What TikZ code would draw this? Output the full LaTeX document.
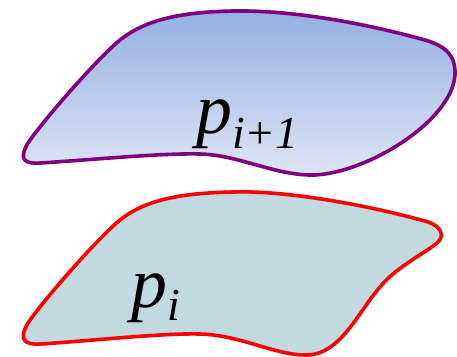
\documentclass[tikz,border=0pt]{standalone}
\usepackage{fontspec}
\setmainfont{Liberation Serif}
\definecolor{blobpurple}{RGB}{128,0,128}
\definecolor{blobred}{RGB}{255,0,0}
\definecolor{bluetop}{RGB}{148,176,226}
\definecolor{bluebot}{RGB}{222,229,245}
\definecolor{tealfill}{RGB}{192,218,224}
\tikzset{
  blob/.style={line width=3.6bp, line join=round},
  lbl/.style={inner sep=0pt, anchor=base west, font=\itshape},
}
\newcommand{\bigsz}{\fontsize{72}{72}\selectfont}
\newcommand{\subsz}{\fontsize{46}{46}\selectfont}
\begin{document}
\begin{tikzpicture}[x=1bp,y=-1bp]
\useasboundingbox (0,0) rectangle (457,356);
% upper region p_{i+1}
\path[blob, draw=blobpurple, top color=bluetop, bottom color=bluebot]
  (40,163) .. controls (90,160) and (160,153) .. (200,154)
  .. controls (240,155) and (275,176) .. (315,175)
  .. controls (370,172) and (452,120) .. (455,75)
  .. controls (456,55) and (445,46) .. (425,40)
  .. controls (360,22) and (290,10) .. (233,11)
  .. controls (180,12) and (145,20) .. (120,40)
  .. controls (100,56) and (45,118) .. (28,143)
  .. controls (18,160) and (25,164) .. (40,163) -- cycle;
% lower region p_i
\path[blob, draw=blobred, fill=tealfill]
  (40,344) .. controls (90,341) and (160,333) .. (200,334)
  .. controls (240,335) and (275,355) .. (305,355)
  .. controls (340,356) and (358,312) .. (380,287)
  .. controls (395,268) and (425,253) .. (437,243)
  .. controls (446,235) and (440,226) .. (428,222)
  .. controls (380,208) and (290,190) .. (233,192)
  .. controls (180,193) and (145,200) .. (120,220)
  .. controls (100,236) and (45,298) .. (28,323)
  .. controls (18,340) and (25,345) .. (40,344) -- cycle;
\node[lbl] (pup) at (196,133) {\bigsz p\raisebox{-15bp}{\subsz i+1}};
\node[lbl] (plow) at (131,307) {\bigsz p\raisebox{-13bp}{\subsz i}};
\end{tikzpicture}
\end{document}
